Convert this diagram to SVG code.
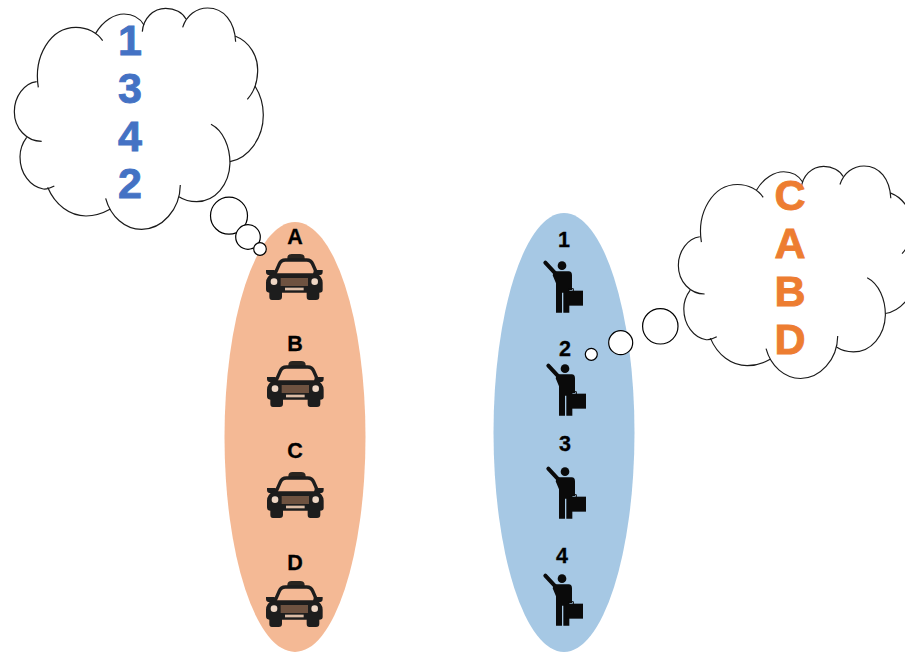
<svg xmlns="http://www.w3.org/2000/svg" width="905" height="653" viewBox="0 0 905 653">
<style>
text{font-family:"Liberation Sans",Arial,sans-serif;font-weight:bold;text-anchor:middle}
.lbl{font-size:21.500px;fill:#000;stroke:#000;stroke-width:.3}
.big{font-size:43px;stroke-width:.9}
.bub{fill:#fff;stroke:#000;stroke-width:1.200}
.arc{fill:none;stroke:#1a1a1a;stroke-width:3.600}
</style>
<defs>
<g id="cloud">
<path fill="#fff" d="M110,245 C100,170 150,82 228,82 C250,82 270,88 287,100 C310,60 345,42 372,42 C398,42 420,55 432,75 C445,45 470,25 497,25 C522,25 545,38 558,57 C575,35 600,24 623,24 C668,24 705,65 705,108 C750,125 775,170 773,215 C773,230 770,245 765,258 C782,285 790,315 790,345 C790,415 745,475 690,485 C688,555 645,605 590,605 C570,605 552,600 537,590 C520,650 475,688 425,688 C385,688 350,665 330,628 C305,642 282,648 258,648 C210,648 165,615 143,562 C90,560 60,520 60,470 C60,450 68,428 80,412 C55,395 43,365 43,335 C43,290 72,250 110,245Z"/>
<path class="arc" d="M115,262 C100,170 150,82 228,82 C262,82 292,98 308,122"/>
<path class="arc" d="M287,100 C310,60 345,42 372,42 C398,42 420,55 432,75"/>
<path class="arc" d="M427,95 C430,55 460,25 497,25 C525,25 548,38 558,57"/>
<path class="arc" d="M548,82 C560,45 590,24 623,24 C672,24 704,65 707,125"/>
<path class="arc" d="M705,108 C750,125 775,170 773,215 C772,248 760,278 742,298"/>
<path class="arc" d="M765,258 C782,285 790,315 790,345 C790,415 745,475 690,485"/>
<path class="arc" d="M633,373 C670,392 690,440 690,490 C688,555 645,605 590,605 C570,605 552,600 537,590"/>
<path class="arc" d="M541,555 C540,630 485,688 425,688 C375,688 332,650 317,595"/>
<path class="arc" d="M330,628 C305,642 282,648 258,648 C210,648 165,615 143,562"/>
<path class="arc" d="M163,558 C150,565 140,568 130,567 C90,560 60,520 60,470 C60,450 68,428 80,412"/>
<path class="arc" d="M125,424 C80,424 43,385 43,335 C43,290 72,250 110,245"/>
</g>
<g id="car" transform="scale(.3333)">
<path fill="#2a2520" d="M112,54 Q112,42 125,42 H150 Q164,42 164,54 V62 H112Z"/>
<path fill="none" stroke="#1d1d1d" stroke-width="10" d="M74,104 L88,72 Q93,60 106,60 H170 Q183,60 188,72 L202,104"/>
<path fill="#1d1d1d" d="M48,90 H74 L78,106 H60 Q48,106 48,96Z M218,90 H192 L188,106 H206 Q218,106 218,96Z"/>
<path fill="#1d1d1d" d="M68,100 H198 Q218,110 218,128 V150 Q218,158 208,158 V170 Q208,180 198,180 H178 Q170,180 170,170 V158 H96 V170 Q96,180 86,180 H66 Q58,180 58,170 V158 Q48,158 48,148 V128 Q48,110 68,100Z"/>
<rect x="92" y="114" width="82" height="24" fill="#6e5240"/>
<rect x="105" y="143" width="56" height="8" fill="#dcbca5"/>
<circle cx="72" cy="125" r="10" fill="#eed6c4"/>
<circle cx="194" cy="125" r="10" fill="#eed6c4"/>
</g>
<g id="person" transform="scale(.3333)">
<circle cx="96" cy="47" r="13" fill="#0a0a0a"/>
<path d="M46,38 L76,70" stroke="#0a0a0a" stroke-width="12" stroke-linecap="round" fill="none"/>
<path fill="#0a0a0a" d="M72,64 H116 Q126,64 126,76 V120 H118 V188 H100 V128 H96 V188 H78 V100 L68,76Z"/>
<path fill="none" stroke="#0a0a0a" stroke-width="3" d="M116,124 V116 H130 V124"/>
<rect x="110" y="122" width="49" height="45" fill="#0a0a0a"/>
</g>
</defs>
<g id="taxi-group">
<ellipse cx="295" cy="437" rx="70.500" ry="215" fill="#F4B995"/>
</g>
<g id="passenger-group">
<ellipse cx="564" cy="432.500" rx="70.500" ry="219.500" fill="#A6C8E4"/>
</g>
<g id="taxi-a"><text class="lbl" x="295" y="244">A</text><use href="#car" x="250" y="240"/></g>
<g id="taxi-b"><text class="lbl" x="295" y="351">B</text><use href="#car" x="251" y="347"/></g>
<g id="taxi-c"><text class="lbl" x="295" y="458">C</text><use href="#car" x="251" y="458"/></g>
<g id="taxi-d"><text class="lbl" x="295" y="570">D</text><use href="#car" x="250" y="567"/></g>
<g id="passenger-1"><text class="lbl" x="564" y="247">1</text><use href="#person" x="530" y="250"/></g>
<g id="passenger-2"><text class="lbl" x="565" y="356">2</text><use href="#person" x="533" y="353"/></g>
<g id="passenger-3"><text class="lbl" x="565" y="451">3</text><use href="#person" x="533" y="456"/></g>
<g id="passenger-4"><text class="lbl" x="562" y="563">4</text><use href="#person" x="530" y="563"/></g>
<g id="cloud-left">
<use href="#cloud" transform="scale(.3333)"/>
<circle class="bub" cx="229" cy="215.700" r="18.500"/>
<circle class="bub" cx="248" cy="237" r="12.300"/>
<circle class="bub" cx="260" cy="249" r="6.300"/>
<g class="big" fill="#4472C4" stroke="#4472C4"><text x="130" y="55">1</text><text x="130" y="103">3</text><text x="130" y="151">4</text><text x="130" y="198">2</text></g>
</g>
<g id="cloud-right">
<use href="#cloud" transform="translate(664.600 158.300) scale(.32)"/>
<circle class="bub" cx="660.300" cy="326.300" r="17.700"/>
<circle class="bub" cx="620.700" cy="342.700" r="12"/>
<circle class="bub" cx="591.300" cy="354.300" r="6"/>
<g class="big" fill="#ED7D31" stroke="#ED7D31"><text x="790" y="210">C</text><text x="790" y="258">A</text><text x="790" y="306">B</text><text x="790" y="354">D</text></g>
</g>
</svg>
